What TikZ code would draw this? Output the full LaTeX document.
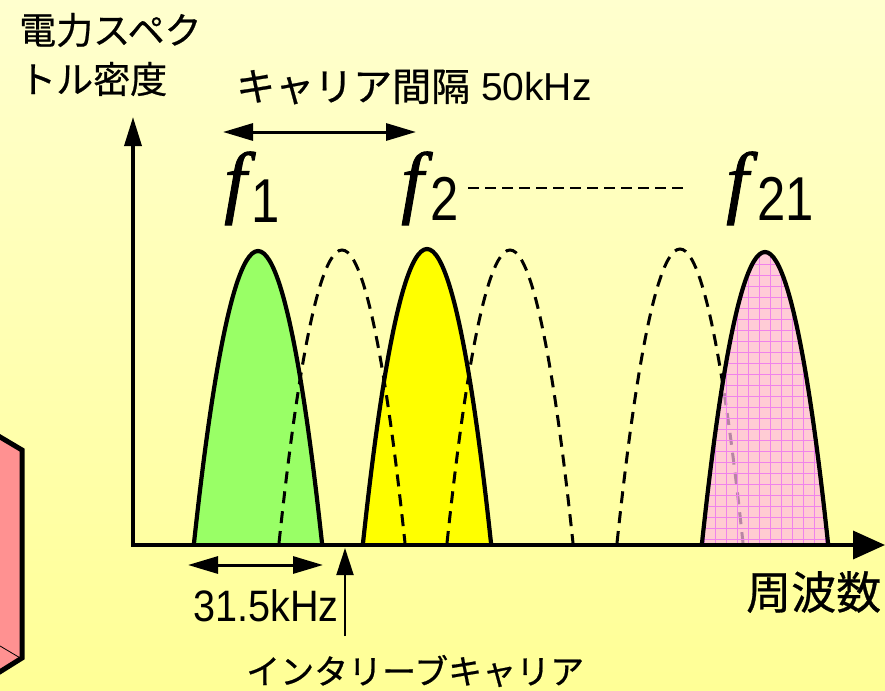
\documentclass[tikz,border=0pt]{standalone}
\usepackage{fontspec}
\setmainfont{Liberation Sans}
\newfontfamily\jp[FakeBold=0.6]{Noto Sans CJK JP}
\newfontfamily\fserif[FakeBold=1.2]{Liberation Serif}
\usetikzlibrary{arrows.meta}
\definecolor{bgtop}{RGB}{255,255,206}
\definecolor{bgbot}{RGB}{255,255,150}
\definecolor{cgreen}{RGB}{153,255,102}
\definecolor{cyellow}{RGB}{255,255,0}
\definecolor{cpink}{RGB}{255,185,228}
\definecolor{cgrid}{RGB}{240,130,235}
\definecolor{cbox}{RGB}{255,145,145}
\begin{document}
\begin{tikzpicture}[x=1pt,y=-1pt,
  solidcurve/.style={line width=4.2pt, line join=round, line cap=round},
  dashcurve/.style={line width=3pt, dash pattern=on 12pt off 8pt},
  axisline/.style={line width=3.5pt},
  dimarrow/.style={line width=3pt, {Triangle[length=30pt,width=17pt]}-{Triangle[length=30pt,width=17pt]}},
  jptext/.style={inner sep=0pt, anchor=west, text=black},
  ftext/.style={inner sep=0pt, anchor=base west, font=\fontsize{80}{80}\fserif\itshape},
  subtext/.style={inner sep=0pt, anchor=base west, font=\fontsize{62}{62}\selectfont}]
\useasboundingbox (0,0) rectangle (885,690);
\shade[top color=bgtop, bottom color=bgbot] (0,0) rectangle (885,690);

% left pink box (partially visible)
\fill[cbox] (-10,431) -- (22,450) -- (22,658) -- (-10,678) -- cycle;
\draw[line width=0.8pt] (-5,643) -- (22,659);
\draw[line width=5pt, line join=miter] (-10,431) -- (22,450) -- (22,658) -- (-10,678);

% filled carriers
\fill[cgreen] (194,543) parabola bend (258,251) (322,543) -- cycle;
\fill[cyellow] (363,543) parabola bend (427,249) (491,543) -- cycle;

% interleaved carriers (dashed)
\draw[dashcurve] (279,543) parabola bend (342,250) (405,543);
\draw[dashcurve] (447,543) parabola bend (510,250) (573,543);
\draw[dashcurve] (617,543) parabola bend (680,249) (743,543);

% pink carrier with grid
\begin{scope}
  \clip (702,543) parabola bend (765,252) (828,543) -- cycle;
  \fill[cpink, fill opacity=0.72] (690,240) rectangle (840,550);
  \draw[cgrid, line width=0.7pt, step=11pt] (690,240) grid (840,550);
\end{scope}

% outlines
\draw[solidcurve] (194,543) parabola bend (258,251) (322,543);
\draw[solidcurve] (363,543) parabola bend (427,249) (491,543);
\draw[solidcurve] (702,543) parabola bend (765,252) (828,543);

% axes
\coordinate (O) at (133,545);
\coordinate (Ytip) at (133,117);
\coordinate (Ostart) at (131,545);
\coordinate (Xtip) at (885,545);
\draw[axisline, -{Triangle[length=29pt,width=17pt]}] (O) -- (Ytip);
\draw[axisline, -{Triangle[length=32pt,width=28pt]}] (Ostart) -- (Xtip);

% carrier spacing arrow
\coordinate (sa) at (223,132);
\coordinate (sb) at (416,132);
\draw[dimarrow] (sa) -- (sb);

% bandwidth arrow
\coordinate (ba) at (188,565);
\coordinate (bb) at (323,565);
\draw[dimarrow] (ba) -- (bb);

% interleave arrow
\coordinate (ia) at (345,636);
\coordinate (ib) at (345,548);
\draw[line width=2pt, -{Triangle[length=27pt,width=17pt]}] (ia) -- (ib);

% dashed continuation
\coordinate (da) at (468,188);
\coordinate (db) at (686,188);
\draw[line width=2.2pt, dash pattern=on 11pt off 6pt] (da) -- (db);

% texts
\node[jptext, font=\fontsize{37}{37}\jp] (t1) at (19,30) {電力スペク};
\node[jptext, font=\fontsize{37}{37}\jp] (t2) at (19,79) {トル密度};
\node[jptext, font=\fontsize{39}{39}\selectfont] (t3) at (236,87) {{\jp キャリア間隔} 50kHz};
\node[jptext, font=\fontsize{44}{44}\selectfont] (t4) at (193,606) {\scalebox{0.9}[1]{31.5kHz}};
\node[jptext, font=\fontsize{34}{34}\jp] (t5) at (246,671) {インタリーブキャリア};
\node[jptext, font=\fontsize{45}{45}\jp] (t6) at (746,592) {周波数};

\node[ftext] (f1) at (224,208) {f};
\node[subtext] (s1) at (251,222) {\scalebox{0.82}[1]{1}};
\node[ftext] (f2) at (401,208) {f};
\node[subtext] (s2) at (430,220) {\scalebox{0.82}[1]{2}};
\node[ftext] (f3) at (726,208) {f};
\node[subtext] (s3) at (757,220) {\scalebox{0.82}[1]{21}};
\end{tikzpicture}
\end{document}
